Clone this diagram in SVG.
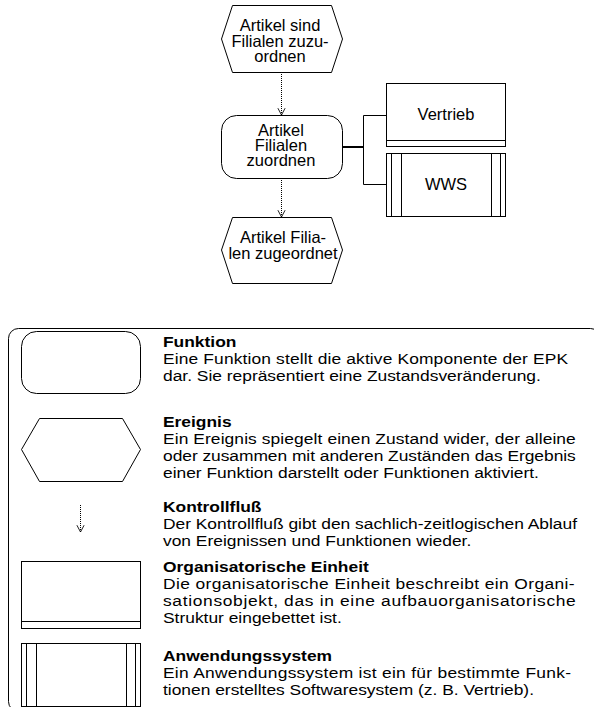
<svg xmlns="http://www.w3.org/2000/svg" width="594" height="707" viewBox="0 0 594 707">
  <style>
    .shape { fill: #fff; stroke: #000; stroke-width: 1; }
    .line { fill: none; stroke: #000; stroke-width: 1; }
    .flow { fill: none; stroke: #000; stroke-width: 1; stroke-dasharray: 1 1; marker-end: url(#openV); }
    .lbl { font-family: "Liberation Sans", Arial, sans-serif; font-size: 16.5px; fill: #000; text-anchor: middle; }
    .txt { font-family: "Liberation Sans", Arial, sans-serif; font-size: 14.5px; fill: #000; }
    .ttl { font-weight: bold; }
  </style>
  <defs>
    <marker id="openV" viewBox="0 0 10 10" refX="9.5" refY="5" markerWidth="8" markerHeight="9" orient="auto" markerUnits="userSpaceOnUse">
      <path d="M1,0.5 L9.5,5 L1,9.5" fill="none" stroke="#000" stroke-width="1.1" stroke-dasharray="none"/>
    </marker>
  </defs>

  <rect width="594" height="707" fill="#fff"/>

  <!-- process chain -->
  <g id="connectors">
    <line class="flow" x1="281.5" y1="72" x2="281.5" y2="115"/>
    <line class="flow" x1="281.5" y1="178" x2="281.5" y2="217"/>
    <line x1="342" y1="147" x2="363.5" y2="147" stroke="#000" stroke-width="2"/>
    <polyline class="line" points="386,115.5 363.5,115.5 363.5,184.5 386,184.5"/>
  </g>

  <g id="ev-start">
    <polygon class="shape" points="232.5,5.5 331.5,5.5 342.5,39 331.5,72.5 232.5,72.5 221.5,39"/>
    <text class="lbl" x="280" y="31">Artikel sind</text>
    <text class="lbl" x="280" y="46.5">Filialen zuzu-</text>
    <text class="lbl" x="280" y="62">ordnen</text>
  </g>

  <g id="fn-assign">
    <rect class="shape" x="221.5" y="115.5" width="121" height="63" rx="15" ry="15"/>
    <text class="lbl" x="281" y="136">Artikel</text>
    <text class="lbl" x="281" y="151">Filialen</text>
    <text class="lbl" x="281" y="166">zuordnen</text>
  </g>

  <g id="org-vertrieb">
    <rect class="shape" x="386.5" y="83.5" width="119" height="63"/>
    <line class="line" x1="386.5" y1="140.5" x2="505.5" y2="140.5"/>
    <text class="lbl" x="446" y="120">Vertrieb</text>
  </g>

  <g id="sys-wws">
    <rect class="shape" x="386.5" y="153.5" width="119" height="63"/>
    <line class="line" x1="391.5" y1="153.5" x2="391.5" y2="216.5"/>
    <line class="line" x1="401.5" y1="153.5" x2="401.5" y2="216.5"/>
    <line class="line" x1="491.5" y1="153.5" x2="491.5" y2="216.5"/>
    <line class="line" x1="500.5" y1="153.5" x2="500.5" y2="216.5"/>
    <text class="lbl" x="446" y="190">WWS</text>
  </g>

  <g id="ev-done">
    <polygon class="shape" points="232.5,217.5 331.5,217.5 342.5,250 331.5,283.5 232.5,283.5 221.5,250"/>
    <text class="lbl" x="283" y="243">Artikel Filia-</text>
    <text class="lbl" x="283" y="259">len zugeordnet</text>
  </g>

  <!-- legend -->
  <g id="legend">
    <rect class="line" x="8.5" y="328.5" width="592" height="383" rx="10" ry="10"/>

    <rect class="shape" x="21.5" y="331.5" width="119" height="62" rx="15" ry="15"/>
    <polygon class="shape" points="39.5,418.5 122.5,418.5 140.5,449.5 122.5,481.5 39.5,481.5 21.5,449.5"/>
    <line class="flow" x1="80.5" y1="505" x2="80.5" y2="532"/>
    <rect class="shape" x="21.5" y="561.5" width="119" height="67"/>
    <line class="line" x1="21.5" y1="621.5" x2="140.5" y2="621.5"/>
    <rect class="shape" x="21.5" y="643.5" width="119" height="63"/>
    <line class="line" x1="26.5" y1="643.5" x2="26.5" y2="706.5"/>
    <line class="line" x1="36.5" y1="643.5" x2="36.5" y2="706.5"/>
    <line class="line" x1="126.5" y1="643.5" x2="126.5" y2="706.5"/>
    <line class="line" x1="135.5" y1="643.5" x2="135.5" y2="706.5"/>

    <g transform="translate(163 0) scale(1.2 1)">
      <text class="txt ttl" x="0" y="347">Funktion</text>
      <text class="txt" x="0" y="364" textLength="337.5" lengthAdjust="spacing">Eine Funktion stellt die aktive Komponente der EPK</text>
      <text class="txt" x="0" y="381">dar. Sie repräsentiert eine Zustandsveränderung.</text>

      <text class="txt ttl" x="0" y="427">Ereignis</text>
      <text class="txt" x="0" y="444" textLength="344" lengthAdjust="spacing">Ein Ereignis spiegelt einen Zustand wider, der alleine</text>
      <text class="txt" x="0" y="461" textLength="344" lengthAdjust="spacing">oder zusammen mit anderen Zuständen das Ergebnis</text>
      <text class="txt" x="0" y="478">einer Funktion darstellt oder Funktionen aktiviert.</text>

      <text class="txt ttl" x="0" y="512">Kontrollfluß</text>
      <text class="txt" x="0" y="529" textLength="345" lengthAdjust="spacing">Der Kontrollfluß gibt den sachlich-zeitlogischen Ablauf</text>
      <text class="txt" x="0" y="546">von Ereignissen und Funktionen wieder.</text>

      <text class="txt ttl" x="0" y="572">Organisatorische Einheit</text>
      <text class="txt" x="0" y="589" textLength="343" lengthAdjust="spacing">Die organisatorische Einheit beschreibt ein Organi-</text>
      <text class="txt" x="0" y="606" textLength="344" lengthAdjust="spacing">sationsobjekt, das in eine aufbauorganisatorische</text>
      <text class="txt" x="0" y="623">Struktur eingebettet ist.</text>

      <text class="txt ttl" x="0" y="661">Anwendungssystem</text>
      <text class="txt" x="0" y="678" textLength="340" lengthAdjust="spacing">Ein Anwendungssystem ist ein für bestimmte Funk-</text>
      <text class="txt" x="0" y="695">tionen erstelltes Softwaresystem (z. B. Vertrieb).</text>
    </g>
  </g>
</svg>
